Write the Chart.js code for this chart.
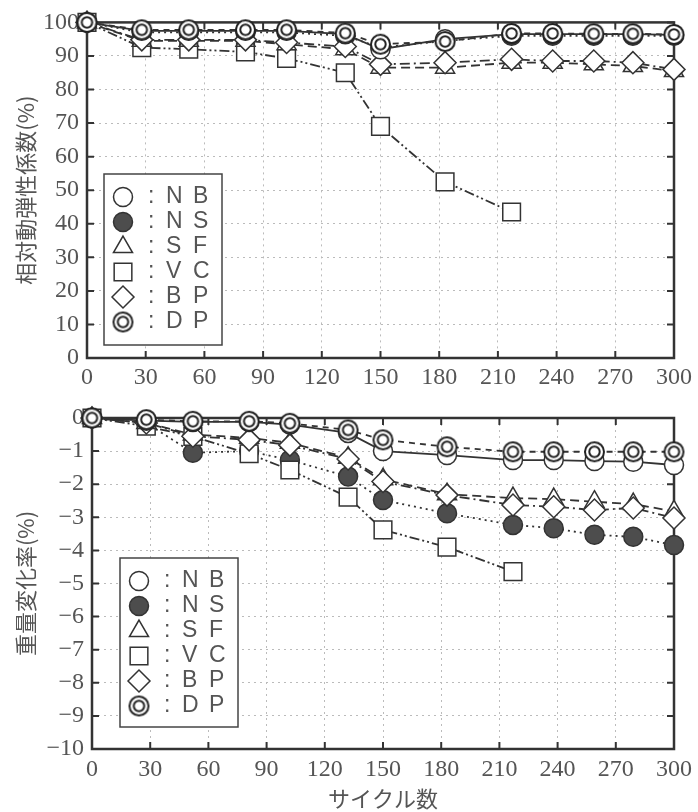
<!DOCTYPE html>
<html>
<head>
<meta charset="utf-8">
<script src="https://cdn.jsdelivr.net/npm/chart.js@4.4.0/dist/chart.umd.min.js"></script>
<style>
  html, body { margin: 0; padding: 0; background: #fff; }
  #wrap { position: relative; width: 698px; height: 812px; }
  canvas { position: absolute; left: 0; }
  #modulusChart { top: 0; }
  #weightChart { top: 390px; }
</style>
</head>
<body>
<div id="wrap">
  <canvas id="modulusChart" width="698" height="390" style="width:698px;height:390px"></canvas>
  <canvas id="weightChart" width="698" height="422" style="width:698px;height:422px"></canvas>
</div>
<script>
// サイクル数 (x)
const cycles = [0, 28, 52, 81, 102, 132, 150, 183, 217, 238, 259, 279, 300];
const seriesNames = ['NB', 'NS', 'SF', 'VC', 'BP', 'DP'];

// 相対動弾性係数 (%)
const modulusNB = [100, 97.5, 97.5, 97.5, 97.5, 96.5, 92, 95, 96.5, 96.5, 96.5, 96.5, 96.3];
const modulusNS = [100, 97, 97, 97, 97, 96, 92.5, 94.5, 96, 96, 96, 96, 96];
const modulusSF = [100, 94.5, 94.5, 94.5, 93.5, 92, 86.5, 86.5, 88, 88, 87.5, 87, 85.5];
const modulusVC = [100, 92.5, 92, 91.2, 89.3, 85, 69, 52.5, 43.5];
const modulusBP = [100, 94.8, 94.8, 94.8, 94, 92.8, 87.5, 88, 89, 88.5, 88.5, 88, 86];
const modulusDP = [100, 97.8, 97.8, 97.8, 97.8, 96.8, 93.5, 94.3, 96.7, 96.7, 96.6, 96.6, 96.4];

// 重量変化率 (%)
const weightNB = [0, -0.08, -0.12, -0.12, -0.2, -0.45, -1.0, -1.12, -1.27, -1.27, -1.3, -1.32, -1.42];
const weightNS = [0, -0.15, -1.05, -1.0, -1.27, -1.77, -2.48, -2.88, -3.23, -3.33, -3.53, -3.59, -3.84];
const weightSF = [0, -0.15, -0.5, -0.6, -0.75, -1.2, -1.85, -2.3, -2.42, -2.45, -2.53, -2.6, -2.82];
const weightVC = [0, -0.25, -0.56, -1.08, -1.57, -2.39, -3.38, -3.9, -4.64];
const weightBP = [0, -0.15, -0.55, -0.66, -0.82, -1.24, -1.92, -2.33, -2.63, -2.68, -2.78, -2.72, -3.02];
const weightDP = [0, -0.05, -0.1, -0.1, -0.16, -0.36, -0.66, -0.87, -1.02, -1.02, -1.02, -1.02, -1.02];

const ink = '#333';
const textGray = '#555';

// double circle marker for DP
function makeDoubleCircle(r) {
  const c = document.createElement('canvas');
  c.width = c.height = 2 * r + 4;
  const g = c.getContext('2d');
  const m = c.width / 2;
  g.fillStyle = '#fff';
  g.strokeStyle = '#222';
  g.lineWidth = 2;
  g.beginPath(); g.arc(m, m, r, 0, Math.PI * 2); g.fill(); g.stroke();
  g.beginPath(); g.arc(m, m, r * 0.55, 0, Math.PI * 2); g.stroke();
  return c;
}
const doubleCircle = makeDoubleCircle(9.5);

const styles = {
  NB: { point: 'circle', r: 9.5, fill: '#fff', dash: [] },
  NS: { point: 'circle', r: 9.5, fill: '#4d4d4d', dash: [2, 4] },
  SF: { point: 'triangle', r: 11, fill: '#fff', dash: [9, 5] },
  VC: { point: 'rect', r: 12.5, fill: '#fff', dash: [10, 3, 2, 3, 2, 3] },
  BP: { point: 'rectRot', r: 11, fill: '#fff', dash: [10, 4, 2, 4] },
  DP: { point: doubleCircle, r: 10, fill: '#fff', dash: [6, 5] }
};
// first one ends up on top
const drawOrder = ['DP', 'NB', 'BP', 'SF', 'VC', 'NS'];

function buildDatasets(values) {
  return drawOrder.map(name => {
    const s = styles[name];
    return {
      label: name,
      data: values[name].map((v, i) => ({ x: cycles[i], y: v })),
      borderColor: ink,
      borderWidth: 1.8,
      borderDash: s.dash,
      pointStyle: s.point,
      pointRadius: s.r,
      pointBackgroundColor: s.fill,
      pointBorderColor: ink,
      pointBorderWidth: 1.5,
      tension: 0,
      clip: false
    };
  });
}

// frame and inward tick marks
const frameTicks = {
  id: 'frameTicks',
  beforeDatasetsDraw(chart) {
    const { ctx, chartArea: a, scales: { x, y } } = chart;
    ctx.save();
    ctx.strokeStyle = ink;
    ctx.lineWidth = 2;
    ctx.beginPath();
    x.ticks.forEach(t => {
      const px = x.getPixelForValue(t.value);
      ctx.moveTo(px, a.bottom); ctx.lineTo(px, a.bottom - 7);
      ctx.moveTo(px, a.top); ctx.lineTo(px, a.top + 7);
    });
    y.ticks.forEach(t => {
      const py = y.getPixelForValue(t.value);
      ctx.moveTo(a.left, py); ctx.lineTo(a.left + 7, py);
      ctx.moveTo(a.right, py); ctx.lineTo(a.right - 7, py);
    });
    ctx.stroke();
    ctx.lineWidth = 2.5;
    ctx.strokeRect(a.left, a.top, a.width, a.height);
    ctx.restore();
  }
};

function drawSymbol(ctx, name, x, y) {
  const s = styles[name];
  if (typeof s.point !== 'string') {
    ctx.drawImage(s.point, x - s.point.width / 2, y - s.point.height / 2);
    return;
  }
  ctx.fillStyle = s.fill;
  ctx.strokeStyle = ink;
  ctx.lineWidth = 1.5;
  Chart.helpers.drawPoint(ctx, { pointStyle: s.point, radius: s.r, borderWidth: 1.5, rotation: 0 }, x, y);
}

// boxed legend inside the plot
const boxLegend = {
  id: 'boxLegend',
  afterDraw(chart, args, opts) {
    const { ctx, chartArea: a } = chart;
    const left = a.left + opts.offsetX;
    const top = a.bottom - opts.offsetY - opts.height;
    ctx.save();
    ctx.fillStyle = '#fff';
    ctx.fillRect(left, top, opts.width, opts.height);
    ctx.strokeStyle = '#444';
    ctx.lineWidth = 1.5;
    ctx.strokeRect(left, top, opts.width, opts.height);
    seriesNames.forEach((name, i) => {
      const cy = top + 23 + i * 25;
      drawSymbol(ctx, name, left + 19, cy);
      ctx.fillStyle = textGray;
      ctx.font = '23px "Liberation Sans", Arial, sans-serif';
      ctx.textBaseline = 'middle';
      ctx.textAlign = 'left';
      ctx.fillText(':', left + 44, cy);
      ctx.fillText(name[0], left + 62, cy);
      ctx.fillText(name[1], left + 89, cy);
    });
    ctx.restore();
  }
};

const tickFont = { family: '"Liberation Serif", "Times New Roman", serif', size: 24 };
const titleFont = { family: '"Noto Sans CJK JP", sans-serif', size: 22 };

function makeOptions(cfg) {
  return {
    responsive: false,
    animation: false,
    layout: { padding: cfg.padding },
    plugins: {
      legend: { display: false },
      tooltip: { enabled: false },
      boxLegend: cfg.legend
    },
    scales: {
      x: {
        type: 'linear',
        min: 0, max: 300,
        ticks: { stepSize: 30, font: tickFont, color: textGray, padding: cfg.xTickPad, maxRotation: 0 },
        grid: { color: '#bbb', lineWidth: 1, drawTicks: false },
        border: { display: false, dash: [2, 4] },
        title: cfg.xTitle ? { display: true, text: cfg.xTitle, font: titleFont, color: textGray, padding: 0 } : { display: false },
        afterFit: s => { s.height = cfg.xHeight; }
      },
      y: {
        min: cfg.yMin, max: cfg.yMax,
        ticks: {
          stepSize: cfg.yStep, font: tickFont, color: textGray, padding: 8,
          callback: v => String(v).replace('-', '\u2212')
        },
        grid: { color: '#bbb', lineWidth: 1, drawTicks: false },
        border: { display: false, dash: [2, 4] },
        title: { display: true, text: cfg.yTitle, font: titleFont, color: textGray, padding: { top: 12, bottom: 0 } },
        afterFit: s => { s.width = cfg.yWidth; }
      }
    }
  };
}

new Chart(document.getElementById('modulusChart'), {
  type: 'line',
  data: {
    datasets: buildDatasets({ NB: modulusNB, NS: modulusNS, SF: modulusSF, VC: modulusVC, BP: modulusBP, DP: modulusDP })
  },
  options: makeOptions({
    padding: { top: 22, right: 24, left: 0, bottom: 0 },
    yMin: 0, yMax: 100, yStep: 10,
    yTitle: '相対動弾性係数(%)',
    yWidth: 87, xHeight: 32, xTickPad: 5,
    legend: { offsetX: 17, offsetY: 13, width: 118, height: 171 }
  }),
  plugins: [frameTicks, boxLegend]
});

new Chart(document.getElementById('weightChart'), {
  type: 'line',
  data: {
    datasets: buildDatasets({ NB: weightNB, NS: weightNS, SF: weightSF, VC: weightVC, BP: weightBP, DP: weightDP })
  },
  options: makeOptions({
    padding: { top: 28, right: 21, left: 0, bottom: 0 },
    yMin: -10, yMax: 0, yStep: 1,
    yTitle: '重量変化率(%)',
    xTitle: 'サイクル数',
    yWidth: 92, xHeight: 63, xTickPad: 6,
    legend: { offsetX: 28, offsetY: 22, width: 118, height: 169 }
  }),
  plugins: [frameTicks, boxLegend]
});
</script>
</body>
</html>
